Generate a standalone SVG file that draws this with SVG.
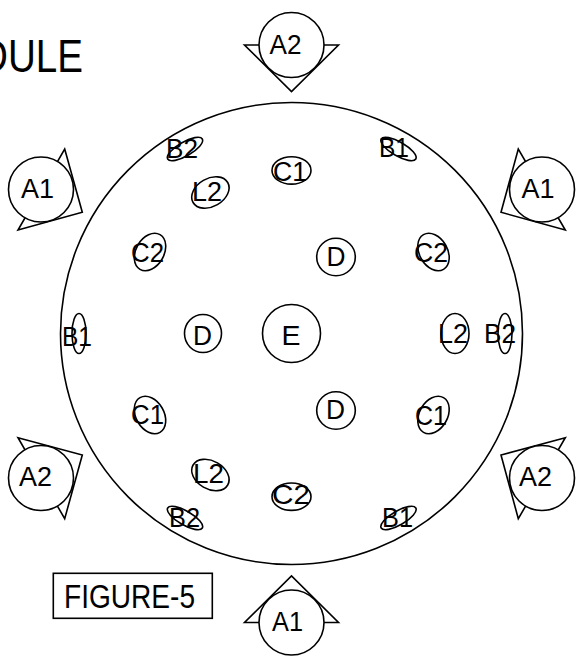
<svg xmlns="http://www.w3.org/2000/svg" width="579" height="656" viewBox="0 0 579 656">
<style>
.s{fill:none;stroke:#000;stroke-width:1.6}
.w{fill:#fff;stroke:#000;stroke-width:1.6}
text{font-family:"Liberation Sans",Arial,sans-serif;font-size:27px;fill:#000}
.b{font-size:34px}
.t{font-size:47px}
</style>
<rect width="579" height="656" fill="#fff"/>
<text class="t" x="-20" y="71.5" textLength="103" lengthAdjust="spacingAndGlyphs">DULE</text>
<g id="connectors"/>
<g id="main"><circle class="s" cx="291.5" cy="333.5" r="231"/></g>
<g id="a2-top"><path class="s" d="M244.5 45H338.5L291.5 91.5Z"/><circle class="w" cx="291.5" cy="45" r="32.5"/><text x="269.5" y="53.5" textLength="32" lengthAdjust="spacingAndGlyphs">A2</text></g>
<g id="a1-bottom"><path class="s" d="M244.5 622.5H338.5L291.5 576Z"/><circle class="w" cx="291.5" cy="622.5" r="32.5"/><text x="272" y="631" textLength="31" lengthAdjust="spacingAndGlyphs">A1</text></g>
<g id="a1-left"><path class="s" d="M64.7 149L82.3 212.3L18 230Z"/><circle class="w" cx="41" cy="189.5" r="32.5"/><text x="21" y="197.5" textLength="33" lengthAdjust="spacingAndGlyphs">A1</text></g>
<g id="a1-right"><path class="s" d="M518.3 149L501 212.3L565.3 230Z"/><circle class="w" cx="542" cy="189.5" r="32.5"/><text x="521.5" y="197.5" textLength="33" lengthAdjust="spacingAndGlyphs">A1</text></g>
<g id="a2-left"><path class="s" d="M18 437.7L82.3 455L64.7 518.7Z"/><circle class="w" cx="41" cy="478" r="32.5"/><text x="19" y="486" textLength="33" lengthAdjust="spacingAndGlyphs">A2</text></g>
<g id="a2-right"><path class="s" d="M565.3 437.7L501 455L518.3 518.7Z"/><circle class="w" cx="542" cy="478" r="32.5"/><text x="519" y="486" textLength="33" lengthAdjust="spacingAndGlyphs">A2</text></g>
<g id="e"><circle class="s" cx="291.5" cy="333.5" r="29"/><text x="281.5" y="345" textLength="19" lengthAdjust="spacingAndGlyphs">E</text></g>
<g id="d-left"><ellipse class="s" cx="203" cy="333.5" rx="18.5" ry="19"/><text x="193" y="345" textLength="19" lengthAdjust="spacingAndGlyphs">D</text></g>
<g id="d-top"><ellipse class="s" cx="336" cy="257" rx="19.3" ry="18.7"/><text x="326.5" y="266" textLength="19" lengthAdjust="spacingAndGlyphs">D</text></g>
<g id="d-bottom"><ellipse class="s" cx="336" cy="410.5" rx="19.3" ry="18.7"/><text x="326" y="419" textLength="19" lengthAdjust="spacingAndGlyphs">D</text></g>
<g id="c1-top"><ellipse class="s" cx="291.5" cy="170.4" rx="19.5" ry="13.7"/><text x="273" y="181" textLength="34" lengthAdjust="spacingAndGlyphs">C1</text></g>
<g id="c2-bottom"><ellipse class="s" cx="291.5" cy="496.7" rx="19.5" ry="13.7"/><text x="272" y="504" textLength="38" lengthAdjust="spacingAndGlyphs">C2</text></g>
<g id="b2-tl"><ellipse class="s" cx="185" cy="149" rx="20" ry="7" transform="rotate(-30 185 149)"/><text x="166" y="158" textLength="32" lengthAdjust="spacingAndGlyphs">B2</text></g>
<g id="l2-tl"><ellipse class="s" cx="210.4" cy="192.5" rx="20" ry="14" transform="rotate(-30 210.4 192.5)"/><text x="192" y="201" textLength="30" lengthAdjust="spacingAndGlyphs">L2</text></g>
<g id="c2-l"><ellipse class="s" cx="150" cy="252" rx="20" ry="14" transform="rotate(-60 150 252)"/><text x="131" y="262" textLength="33" lengthAdjust="spacingAndGlyphs">C2</text></g>
<g id="b1-l"><ellipse class="s" cx="79" cy="333.5" rx="7" ry="20"/><text x="62" y="345.5" textLength="30" lengthAdjust="spacingAndGlyphs">B1</text></g>
<g id="l2-r"><ellipse class="s" cx="455" cy="333.5" rx="14" ry="20"/><text x="438" y="343" textLength="30" lengthAdjust="spacingAndGlyphs">L2</text></g>
<g id="b2-r"><ellipse class="s" cx="505" cy="333.5" rx="7" ry="20"/><text x="484" y="343" textLength="32" lengthAdjust="spacingAndGlyphs">B2</text></g>
<g id="b1-tr"><ellipse class="s" cx="398.5" cy="149" rx="20" ry="7" transform="rotate(30 398.5 149)"/><text x="379" y="157" textLength="30" lengthAdjust="spacingAndGlyphs">B1</text></g>
<g id="c2-tr"><ellipse class="s" cx="433.5" cy="252" rx="20" ry="14" transform="rotate(60 433.5 252)"/><text x="414" y="262" textLength="34" lengthAdjust="spacingAndGlyphs">C2</text></g>
<g id="c1-bl"><ellipse class="s" cx="150" cy="415" rx="20" ry="14" transform="rotate(60 150 415)"/><text x="131" y="424" textLength="33" lengthAdjust="spacingAndGlyphs">C1</text></g>
<g id="l2-bl"><ellipse class="s" cx="210.4" cy="475" rx="20" ry="14" transform="rotate(30 210.4 475)"/><text x="193" y="483" textLength="31" lengthAdjust="spacingAndGlyphs">L2</text></g>
<g id="b2-bl"><ellipse class="s" cx="185" cy="518" rx="20" ry="7" transform="rotate(30 185 518)"/><text x="169" y="527" textLength="31" lengthAdjust="spacingAndGlyphs">B2</text></g>
<g id="c1-br"><ellipse class="s" cx="433.5" cy="415" rx="20" ry="14" transform="rotate(-60 433.5 415)"/><text x="415" y="425" textLength="32" lengthAdjust="spacingAndGlyphs">C1</text></g>
<g id="b1-br"><ellipse class="s" cx="398.5" cy="518" rx="20" ry="7" transform="rotate(-30 398.5 518)"/><text x="382" y="527" textLength="31" lengthAdjust="spacingAndGlyphs">B1</text></g>
<g id="figure"><rect class="s" x="53.3" y="573.3" width="159" height="45"/><text class="b" x="64" y="608" textLength="131" lengthAdjust="spacingAndGlyphs">FIGURE-5</text></g>
</svg>
